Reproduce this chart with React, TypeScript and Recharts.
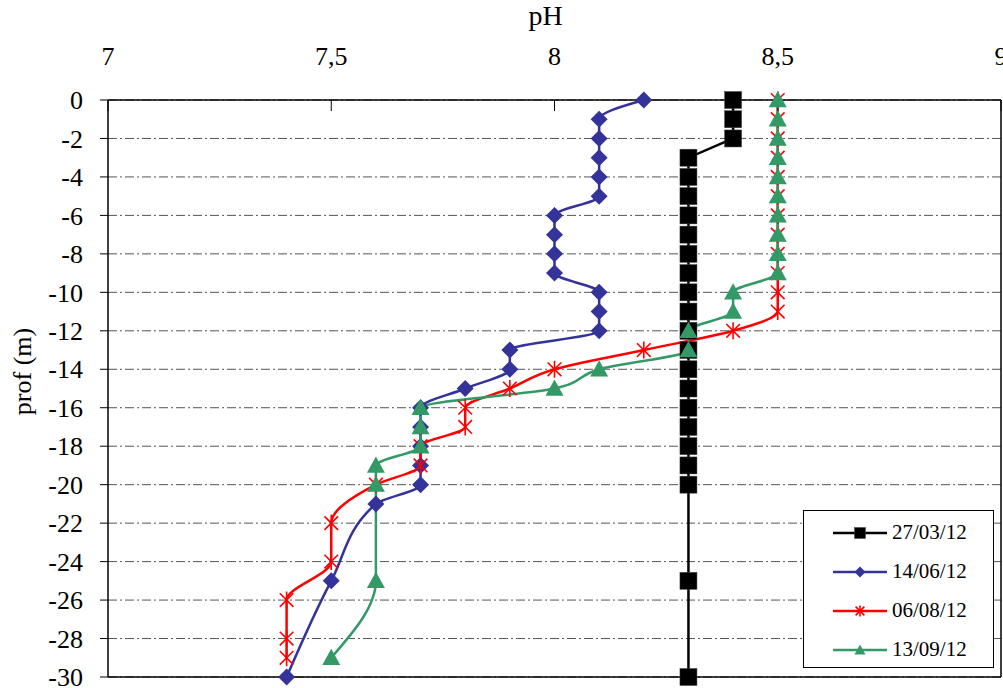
import { LineChart, Line, XAxis, YAxis, CartesianGrid, ReferenceLine, Legend } from 'recharts';

// pH profiles against depth (m), one list per sampling date
const depthsMar = [0, -1, -2, -3, -4, -5, -6, -7, -8, -9, -10, -11, -12, -13, -14, -15, -16, -17, -18, -19, -20, -25, -30];
const phMar = [8.4, 8.4, 8.4, 8.3, 8.3, 8.3, 8.3, 8.3, 8.3, 8.3, 8.3, 8.3, 8.3, 8.3, 8.3, 8.3, 8.3, 8.3, 8.3, 8.3, 8.3, 8.3, 8.3];

const depthsJun = [0, -1, -2, -3, -4, -5, -6, -7, -8, -9, -10, -11, -12, -13, -14, -15, -16, -17, -18, -19, -20, -21, -25, -30];
const phJun = [8.2, 8.1, 8.1, 8.1, 8.1, 8.1, 8.0, 8.0, 8.0, 8.0, 8.1, 8.1, 8.1, 7.9, 7.9, 7.8, 7.7, 7.7, 7.7, 7.7, 7.7, 7.6, 7.5, 7.4];

const depthsAug = [0, -1, -2, -3, -4, -5, -6, -7, -8, -9, -10, -11, -12, -13, -14, -15, -16, -17, -18, -19, -20, -22, -24, -26, -28, -29];
const phAug = [8.5, 8.5, 8.5, 8.5, 8.5, 8.5, 8.5, 8.5, 8.5, 8.5, 8.5, 8.5, 8.4, 8.2, 8.0, 7.9, 7.8, 7.8, 7.7, 7.7, 7.6, 7.5, 7.5, 7.4, 7.4, 7.4];

const depthsSep = [0, -1, -2, -3, -4, -5, -6, -7, -8, -9, -10, -11, -12, -13, -14, -15, -16, -17, -18, -19, -20, -25, -29];
const phSep = [8.5, 8.5, 8.5, 8.5, 8.5, 8.5, 8.5, 8.5, 8.5, 8.5, 8.4, 8.4, 8.3, 8.3, 8.1, 8.0, 7.7, 7.7, 7.7, 7.6, 7.6, 7.6, 7.5];

const phTicks = [7, 7.5, 8, 8.5, 9];
const depthTicks = [0, -2, -4, -6, -8, -10, -12, -14, -16, -18, -20, -22, -24, -26, -28, -30];

const FONT = '"Liberation Serif", "Times New Roman", serif';

const toRows = (depths: number[], ph: number[]) => depths.map((d, i) => ({ depth: d, ph: ph[i] }));

type MarkerKind = 'square' | 'diamond' | 'star' | 'triangle';

const Marker = ({ kind, cx, cy, size, color }: { kind: MarkerKind; cx: number; cy: number; size: number; color: string }) => {
  const h = size / 2;
  if (kind === 'square') {
    return <rect x={cx - h} y={cy - h} width={size} height={size} fill={color} stroke="#444" strokeWidth={0.5} />;
  }
  if (kind === 'diamond') {
    return <polygon points={`${cx},${cy - h} ${cx + h},${cy} ${cx},${cy + h} ${cx - h},${cy}`} fill={color} />;
  }
  if (kind === 'triangle') {
    return <polygon points={`${cx},${cy - h} ${cx + h},${cy + h * 0.8} ${cx - h},${cy + h * 0.8}`} fill={color} />;
  }
  const d = h * 0.8;
  return (
    <g stroke={color} strokeWidth={1.6}>
      <line x1={cx} y1={cy - h} x2={cx} y2={cy + h} />
      <line x1={cx - d} y1={cy - d} x2={cx + d} y2={cy + d} />
      <line x1={cx - d} y1={cy + d} x2={cx + d} y2={cy - d} />
    </g>
  );
};

const series = [
  { name: '27/03/12', data: toRows(depthsMar, phMar), color: '#000000', kind: 'square' as MarkerKind, size: 17, type: 'linear' },
  { name: '14/06/12', data: toRows(depthsJun, phJun), color: '#333399', kind: 'diamond' as MarkerKind, size: 17, type: 'monotone' },
  { name: '06/08/12', data: toRows(depthsAug, phAug), color: '#FF0000', kind: 'star' as MarkerKind, size: 17, type: 'monotone' },
  { name: '13/09/12', data: toRows(depthsSep, phSep), color: '#339966', kind: 'triangle' as MarkerKind, size: 18, type: 'monotone' },
];

const LegendBox = () => (
  <div
    style={{
      width: 191,
      height: 158,
      boxSizing: 'border-box',
      border: '1.5px solid #000',
      background: '#fff',
      paddingTop: 2,
      fontFamily: FONT,
      fontSize: 21,
      color: '#000',
    }}
  >
    {series.map((s) => (
      <div key={s.name} style={{ display: 'flex', alignItems: 'center', height: 39, paddingLeft: 28 }}>
        <svg width={56} height={20}>
          <line x1={1} y1={10} x2={55} y2={10} stroke={s.color} strokeWidth={2.5} />
          <Marker kind={s.kind} cx={28} cy={10} size={11} color={s.color} />
        </svg>
        <span style={{ marginLeft: 4 }}>{s.name}</span>
      </div>
    ))}
  </div>
);

// rotated depth title, a little above the middle of the plot
const DepthLabel = ({ viewBox }: any) => {
  const x = viewBox.x + 31;
  const y = viewBox.y + viewBox.height / 2 - 17;
  return (
    <text x={x} y={y} transform={`rotate(-90 ${x} ${y})`} textAnchor="middle" fill="#000" fontSize={26} fontFamily={FONT}>
      prof (m)
    </text>
  );
};

export default function App() {
  return (
    <div style={{ position: 'absolute', left: 0, top: 0, background: '#fff' }}>
      <LineChart
        width={1003}
        height={688}
        layout="vertical"
        margin={{ top: 0, right: 2, bottom: 11, left: 0 }}
        style={{ fontFamily: FONT }}
      >
        <CartesianGrid vertical={false} stroke="#555" strokeDasharray="9 3 2 3" />
        <XAxis
          type="number"
          dataKey="ph"
          orientation="top"
          domain={[7, 9]}
          ticks={phTicks}
          interval={0}
          height={100}
          tickSize={-11}
          tickMargin={46}
          axisLine={{ stroke: '#000', strokeWidth: 1.5 }}
          tickLine={{ stroke: '#000' }}
          tick={{ fill: '#000', fontSize: 26, fontFamily: FONT }}
          tickFormatter={(v: number) => String(v).replace('.', ',')}
          label={{ value: 'pH', position: 'insideTop', offset: 5, dx: -9, fill: '#000', fontSize: 28, fontFamily: FONT }}
        />
        <YAxis
          type="number"
          dataKey="depth"
          domain={[-30, 0]}
          reversed
          ticks={depthTicks}
          interval={0}
          width={108}
          tickSize={8}
          tickMargin={17}
          axisLine={{ stroke: '#000', strokeWidth: 1.5 }}
          tickLine={{ stroke: '#000' }}
          tick={{ fill: '#000', fontSize: 26, fontFamily: FONT }}
          label={<DepthLabel />}
        />
        <ReferenceLine x={9} stroke="#000" strokeWidth={1.5} />
        <ReferenceLine y={-30} stroke="#000" strokeWidth={1.5} />
        {series.map((s) => (
          <Line
            key={s.name}
            name={s.name}
            data={s.data}
            dataKey="ph"
            type={s.type as any}
            stroke={s.color}
            strokeWidth={2.5}
            isAnimationActive={false}
            dot={(p: any) => (
              <Marker key={`${s.name}-${p.index}`} kind={s.kind} cx={p.cx} cy={p.cy} size={s.size} color={s.color} />
            )}
            activeDot={false}
          />
        ))}
        <Legend
          layout="horizontal"
          verticalAlign="middle"
          align="center"
          wrapperStyle={{ left: 803, top: 510, width: 191, height: 158 }}
          content={() => <LegendBox />}
        />
      </LineChart>
    </div>
  );
}
